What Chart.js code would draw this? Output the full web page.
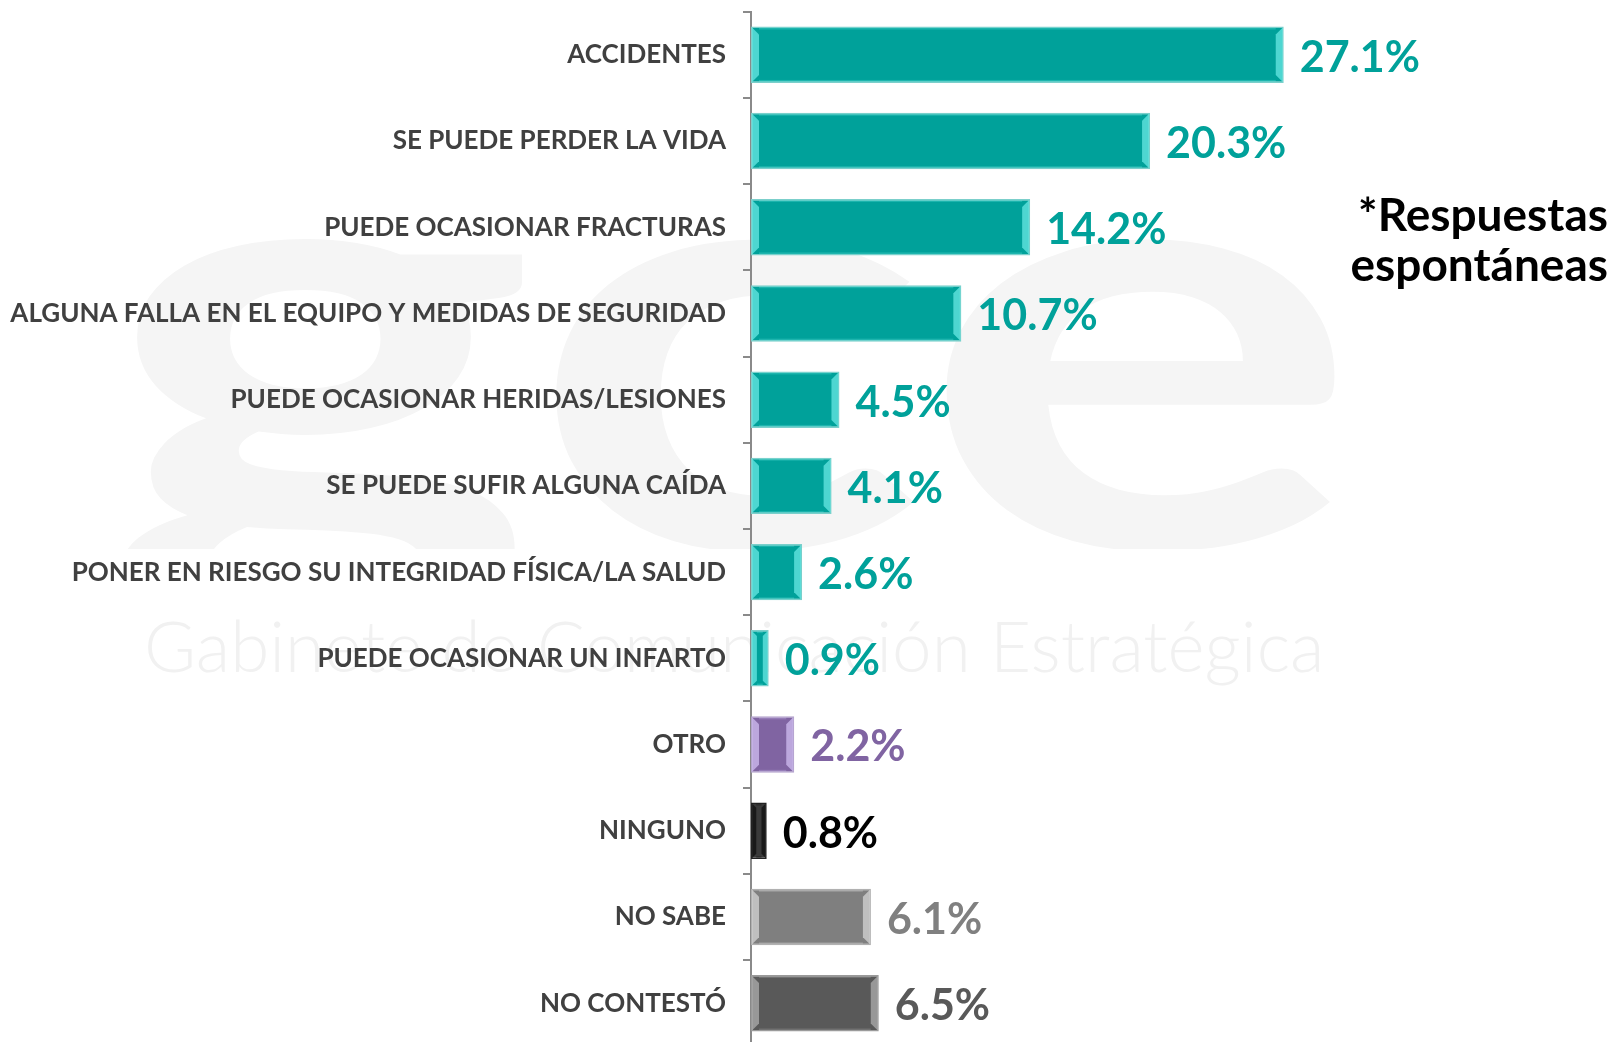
<!DOCTYPE html>
<html>
<head>
<meta charset="utf-8">
<script src="https://cdn.jsdelivr.net/npm/chart.js@4"></script>
<style>
  html, body { margin: 0; padding: 0; background: #fff; overflow: hidden; }
  #wrap { width: 1614px; height: 1100px; position: relative; margin-top: -21px; }
</style>
</head>
<body>
<div id="wrap"><canvas id="riskChart"></canvas></div>
<script>
// Categories and values
const categories = [
    "ACCIDENTES",
    "SE PUEDE PERDER LA VIDA",
    "PUEDE OCASIONAR FRACTURAS",
    "ALGUNA FALLA EN EL EQUIPO Y MEDIDAS DE SEGURIDAD",
    "PUEDE OCASIONAR HERIDAS/LESIONES",
    "SE PUEDE SUFIR ALGUNA CAÍDA",
    "PONER EN RIESGO SU INTEGRIDAD FÍSICA/LA SALUD",
    "PUEDE OCASIONAR UN INFARTO",
    "OTRO",
    "NINGUNO",
    "NO SABE",
    "NO CONTESTÓ"
];
const values = [27.1, 20.3, 14.2, 10.7, 4.5, 4.1, 2.6, 0.9, 2.2, 0.8, 6.1, 6.5];

const teal = "#00a19a";
const barColors = [teal, teal, teal, teal, teal, teal, teal, teal, "#8064a2", "#3a3a3a", "#7f7f7f", "#595959"];
const edgeColors = ["#62e4de", "#62e4de", "#62e4de", "#62e4de", "#62e4de", "#62e4de", "#62e4de", "#62e4de", "#cbb8ec", "#111111", "#cfcfcf", "#a8a8a8"];
const borderColors = ["#7ccfcb", "#7ccfcb", "#7ccfcb", "#7ccfcb", "#7ccfcb", "#7ccfcb", "#7ccfcb", "#7ccfcb", "#b3a2cc", "#222222", "#b0b0b0", "#9a9a9a"];
const labelColors = [teal, teal, teal, teal, teal, teal, teal, teal, "#8064a2", "#000000", "#808080", "#595959"];

const noteLines = ["*Respuestas", "espontáneas"];
const watermarkName = "Gabinete de Comunicación Estratégica";

// faint logo in the background (page is shifted up 21px, so add it back)
const watermark = {
    id: "watermark",
    beforeDraw(chart) {
        const ctx = chart.ctx;
        ctx.save();
        ctx.fillStyle = "#f5f5f5";
        ctx.textAlign = "left";
        ctx.textBaseline = "alphabetic";
        ctx.save();
        ctx.beginPath();
        ctx.rect(0, 0, chart.width, 570);
        ctx.clip();
        ctx.scale(1.4, 1);
        ctx.font = "bold 590px 'Lato', sans-serif";
        ctx.fillText("gce", 100 / 1.4, 568);
        ctx.restore();
        ctx.fillStyle = "#f1f1f1";
        ctx.font = "300 71px 'Lato', sans-serif";
        ctx.fillText(watermarkName, 144, 693);
        ctx.restore();
    }
};

// bevelled edges on each bar
const bevel = {
    id: "bevel",
    afterDatasetsDraw(chart) {
        const ctx = chart.ctx;
        const meta = chart.getDatasetMeta(0);
        meta.data.forEach((bar, i) => {
            const p = bar.getProps(["x", "y", "base", "height"], true);
            const left = Math.min(p.base, p.x), right = Math.max(p.base, p.x);
            const top = p.y - p.height / 2, bottom = p.y + p.height / 2;
            const b = Math.min(8, (right - left) / 3);
            ctx.save();
            ctx.fillStyle = edgeColors[i];
            ctx.globalAlpha = 0.8;
            ctx.beginPath();
            ctx.moveTo(left + 1, top + 1);
            ctx.lineTo(left + b, top + b);
            ctx.lineTo(left + b, bottom - b);
            ctx.lineTo(left + 1, bottom - 1);
            ctx.closePath();
            ctx.fill();
            ctx.beginPath();
            ctx.moveTo(right - 1, top + 1);
            ctx.lineTo(right - b, top + b);
            ctx.lineTo(right - b, bottom - b);
            ctx.lineTo(right - 1, bottom - 1);
            ctx.closePath();
            ctx.fill();
            ctx.globalAlpha = 0.3;
            ctx.fillRect(left + b, top + 1, right - left - 2 * b, 2);
            ctx.fillRect(left + b, bottom - 3, right - left - 2 * b, 2);
            ctx.restore();
        });
    }
};

// percentage labels and side note
const valueLabels = {
    id: "valueLabels",
    afterDatasetsDraw(chart) {
        const ctx = chart.ctx;
        const meta = chart.getDatasetMeta(0);
        ctx.save();
        ctx.font = "bold 43px 'Lato', sans-serif";
        ctx.textAlign = "left";
        ctx.textBaseline = "middle";
        meta.data.forEach((bar, i) => {
            const p = bar.getProps(["x", "y"], true);
            ctx.fillStyle = labelColors[i];
            ctx.fillText(values[i].toFixed(1) + "%", p.x + 16, p.y + 3);
        });
        ctx.fillStyle = "#000";
        ctx.textAlign = "right";
        ctx.font = "bold 46px 'Lato', sans-serif";
        ctx.fillText(noteLines[0], 1608, 216 + 21);
        ctx.fillText(noteLines[1], 1608, 266 + 21);
        ctx.restore();
    }
};

const ctx = document.getElementById("riskChart").getContext("2d");
new Chart(ctx, {
    type: "bar",
    data: {
        labels: categories,
        datasets: [{
            data: values,
            backgroundColor: barColors,
            borderColor: borderColors,
            borderWidth: 1.5,
            borderSkipped: false,
            categoryPercentage: 1,
            barPercentage: 0.655
        }]
    },
    options: {
        indexAxis: "y",
        responsive: true,
        maintainAspectRatio: false,
        animation: false,
        layout: { padding: { top: 10, bottom: 2, left: 0, right: 0 } },
        plugins: {
            legend: { display: false },
            tooltip: { enabled: false }
        },
        scales: {
            x: { display: false, min: 0, max: 43.9 },
            y: {
                afterFit(scale) { scale.width = 751; },
                border: { display: true, color: "#8a8a8a", width: 2 },
                grid: {
                    display: true,
                    offset: true,
                    drawOnChartArea: false,
                    drawTicks: true,
                    tickLength: 8,
                    color: "#8a8a8a",
                    lineWidth: 2
                },
                ticks: {
                    color: "#404040",
                    padding: 17,
                    font: { family: "'Lato', sans-serif", size: 26, weight: "bold" }
                }
            }
        }
    },
    plugins: [watermark, bevel, valueLabels]
});
</script>
</body>
</html>
